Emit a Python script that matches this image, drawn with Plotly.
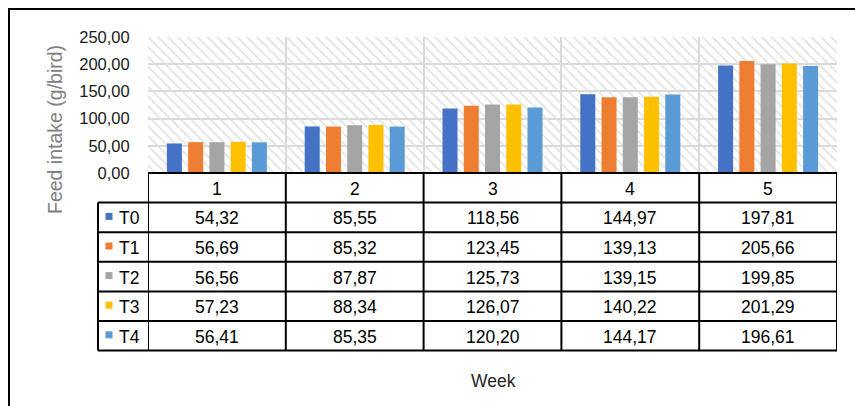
import plotly.graph_objects as go

weeks = ["1", "2", "3", "4", "5"]
series_names = ["T0", "T1", "T2", "T3", "T4"]
T0 = [54.32, 85.55, 118.56, 144.97, 197.81]
T1 = [56.69, 85.32, 123.45, 139.13, 205.66]
T2 = [56.56, 87.87, 125.73, 139.15, 199.85]
T3 = [57.23, 88.34, 126.07, 140.22, 201.29]
T4 = [56.41, 85.35, 120.20, 144.17, 196.61]
series_values = [T0, T1, T2, T3, T4]
colors = ["#4472C4", "#ED7D31", "#A5A5A5", "#FFC000", "#5B9BD5"]
y_max = 250

W, H = 855, 406
L, R, T, B = 148, 837, 37, 173
FONT = "Arial, Liberation Sans, sans-serif"
TXT = 17.5


def px(x):
    return (x - L) / (R - L)


def py(y):
    return (B - y) / (B - T)


fig = go.Figure()

# hatched plot-area background (decorative)
fig.add_trace(go.Bar(
    x=[0.5], y=[y_max], width=[1], xaxis="x", yaxis="y",
    marker=dict(color="#dedede", line_width=0,
                pattern=dict(shape="\\", size=7, solidity=0.22, fillmode="replace")),
    showlegend=False, hoverinfo="skip"))

for name, vals, col in zip(series_names, series_values, colors):
    fig.add_trace(go.Bar(x=weeks, y=vals, name=name, xaxis="x2", yaxis="y",
                         marker=dict(color=col, line_width=0), showlegend=False))

shapes = []
annotations = []
line = dict(color="black", width=2)

row_h = 29.6
header_top = B
header_bot = B + row_h
rows_bot = header_bot + row_h * len(series_names)
leg_left = 98


def text(x, xref, y, s, size=TXT, color="black", xanchor="center", angle=0):
    return dict(x=x, xref=xref, y=py(y), yref="paper", text=s, showarrow=False,
                xanchor=xanchor, yanchor="middle", textangle=angle,
                font=dict(size=size, color=color, family=FONT))


# horizontal lines
shapes.append(dict(type="line", xref="paper", yref="paper", x0=px(L), x1=px(R),
                   y0=py(header_top), y1=py(header_top), line=line))
for k in range(len(series_names) + 1):
    yy = header_bot + k * row_h
    shapes.append(dict(type="line", xref="paper", yref="paper", x0=px(leg_left), x1=px(R),
                       y0=py(yy), y1=py(yy), line=line))
# vertical lines
shapes.append(dict(type="line", xref="paper", yref="paper", x0=px(leg_left), x1=px(leg_left),
                   y0=py(header_bot), y1=py(rows_bot), line=line))
for i in range(len(weeks) + 1):
    shapes.append(dict(type="line", xref="x2", yref="paper", x0=i - 0.5, x1=i - 0.5,
                       y0=py(header_top), y1=py(rows_bot), line=line))

# header
for i, w in enumerate(weeks):
    annotations.append(text(i, "x2", header_top + row_h / 2 + 1, w))
# rows
for k, (name, vals, col) in enumerate(zip(series_names, series_values, colors)):
    yc = header_bot + (k + 0.5) * row_h + 1
    for i, v in enumerate(vals):
        annotations.append(text(i, "x2", yc, f"{v:.2f}".replace(".", ",")))
    shapes.append(dict(type="rect", xref="paper", yref="paper", x0=px(105.5), x1=px(112.5),
                       y0=py(yc - 5.5), y1=py(yc + 1.5), fillcolor=col, line_width=0))
    annotations.append(text(px(117), "paper", yc, name, xanchor="left"))

# outer chart border
shapes.append(dict(type="rect", xref="paper", yref="paper", x0=px(9), x1=px(W + 20),
                   y0=py(H + 20), y1=py(9), line=dict(color="black", width=2)))

annotations.append(text(px(494), "paper", 381, "Week", size=TXT, color="#262626"))
annotations.append(text(px(55), "paper", 129, "Feed intake (g/bird)", size=19.5,
                        color="#7f7f7f", angle=-90))

fig.update_layout(
    width=W, height=H,
    margin=dict(l=L, r=W - R, t=T, b=H - B, pad=0),
    paper_bgcolor="white", plot_bgcolor="white",
    separators=",.",
    barmode="group", bargap=0.229, bargroupgap=0.294,
    font=dict(family=FONT, size=TXT, color="black"),
    xaxis=dict(range=[0, 1], dtick=0.2, tick0=0, showgrid=True, gridcolor="#d9d9d9",
               gridwidth=1.5, showticklabels=False, zeroline=False, showline=False,
               fixedrange=True),
    xaxis2=dict(overlaying="x", anchor="y", type="category", range=[-0.5, 4.5],
                showticklabels=False, showgrid=False, zeroline=False, showline=False),
    yaxis=dict(range=[0, y_max], dtick=50, tickformat=".2f", showgrid=True,
               gridcolor="#d9d9d9", gridwidth=1.5, zeroline=False, showline=False,
               ticks="outside", ticklen=14, tickcolor="rgba(0,0,0,0)",
               tickfont=dict(size=16.5, color="#1a1a1a", family=FONT)),
    shapes=shapes, annotations=annotations, showlegend=False,
)

fig.write_html("out.html", config={"displayModeBar": False},
               post_script="document.body.style.margin='0';")
